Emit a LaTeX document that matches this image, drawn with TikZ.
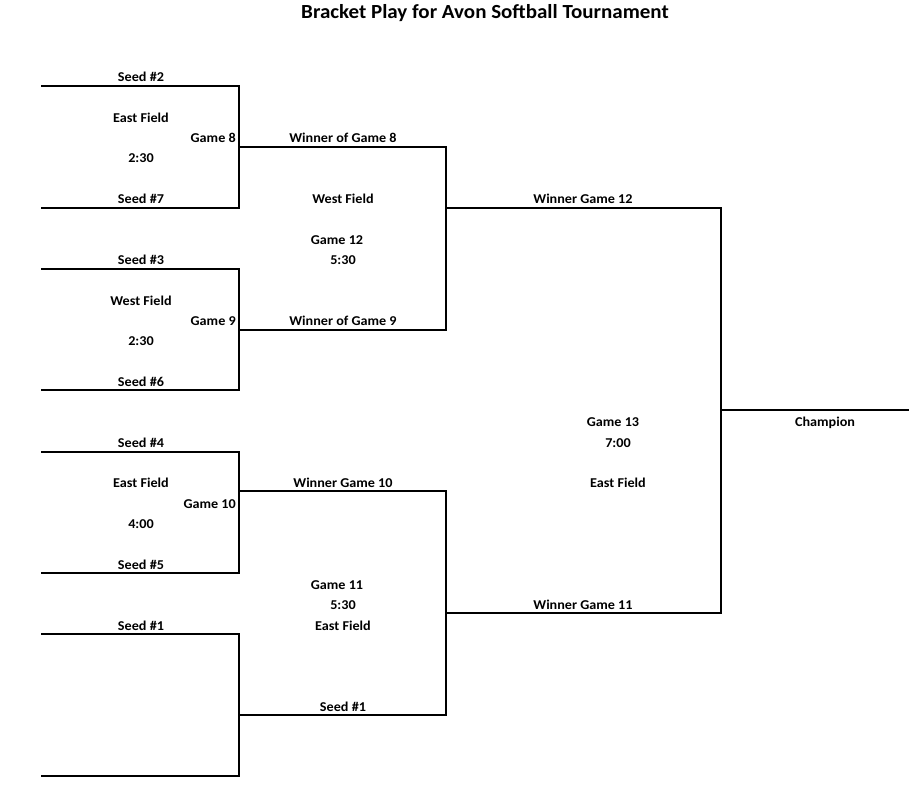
\documentclass[tikz,border=0pt]{standalone}
\usepackage{fontspec}
\setmainfont{Carlito}[FakeStretch=1.05]
\usepackage{tikz}

\tikzset{
  bline/.style={line width=1.8pt},
  lbl/.style={font=\bfseries\fontsize{13.5}{15}\selectfont, inner sep=0pt, text height=8.5pt, text depth=0pt, yshift=-0.8pt},
  gamelbl/.style={lbl, anchor=east},
}

\begin{document}
\begin{tikzpicture}[x=1pt,y=-1pt]
\useasboundingbox (0,0) rectangle (909,808);

\coordinate (s2) at (41,86);
\coordinate (s7) at (41,208);
\coordinate (s3) at (41,269);
\coordinate (s6) at (41,390);
\coordinate (s4) at (41,452);
\coordinate (s5) at (41,573);
\coordinate (s1) at (41,634);
\coordinate (s1b) at (41,776);
\coordinate (g8) at (239,147);
\coordinate (g9) at (239,330);
\coordinate (g10) at (239,491);
\coordinate (bye) at (239,715);
\coordinate (g12) at (446,208);
\coordinate (g11) at (446,613);
\coordinate (g13) at (721,410);
\coordinate (champ) at (909,410);

\draw[bline] (s2) -| (g8) |- (s7);
\draw[bline] (s3) -| (g9) |- (s6);
\draw[bline] (s4) -| (g10) |- (s5);
\draw[bline] (s1) -| (bye) |- (s1b);
\draw[bline] (g8) -| (g12) |- (g9);
\draw[bline] (g10) -| (g11) |- (bye);
\draw[bline] (g12) -| (g13) |- (g11);
\draw[bline] (g13) -- (champ);

\node[lbl, font=\bfseries\fontsize{20}{23}\selectfont, text height=12.5pt] (title) at (485,11) {Bracket Play for Avon Softball Tournament};

\node[lbl] (seed2) at (141,76) {Seed \#2};
\node[lbl] (field8) at (141,117) {East Field};
\node[gamelbl] (game8) at (236,137) {Game 8};
\node[lbl] (time8) at (141,157) {2:30};
\node[lbl] (seed7) at (141,198) {Seed \#7};

\node[lbl] (seed3) at (141,259) {Seed \#3};
\node[lbl] (field9) at (141,300) {West Field};
\node[gamelbl] (game9) at (236,320) {Game 9};
\node[lbl] (time9) at (141,340) {2:30};
\node[lbl] (seed6) at (141,381) {Seed \#6};

\node[lbl] (seed4) at (141,442) {Seed \#4};
\node[lbl] (field10) at (141,482) {East Field};
\node[gamelbl] (game10) at (236,503) {Game 10};
\node[lbl] (time10) at (141,523) {4:00};
\node[lbl] (seed5) at (141,564) {Seed \#5};

\node[lbl] (seed1) at (141,625) {Seed \#1};

\node[lbl] (win8) at (343,137) {Winner of Game 8};
\node[lbl] (field12) at (343,198) {West Field};
\node[lbl] (game12) at (337,239) {Game 12};
\node[lbl] (time12) at (343,259) {5:30};
\node[lbl] (win9) at (343,320) {Winner of Game 9};

\node[lbl] (win10) at (343,482) {Winner Game 10};
\node[lbl] (game11) at (337,584) {Game 11};
\node[lbl] (time11) at (343,604) {5:30};
\node[lbl] (field11) at (343,625) {East Field};
\node[lbl] (seed1b) at (343,706) {Seed \#1};

\node[lbl] (win12) at (583,198) {Winner Game 12};
\node[lbl] (game13) at (613,421) {Game 13};
\node[lbl] (time13) at (618,442) {7:00};
\node[lbl] (field13) at (618,482) {East Field};
\node[lbl] (win11) at (583,604) {Winner Game 11};

\node[lbl] (champion) at (825,421) {Champion};
\end{tikzpicture}
\end{document}
